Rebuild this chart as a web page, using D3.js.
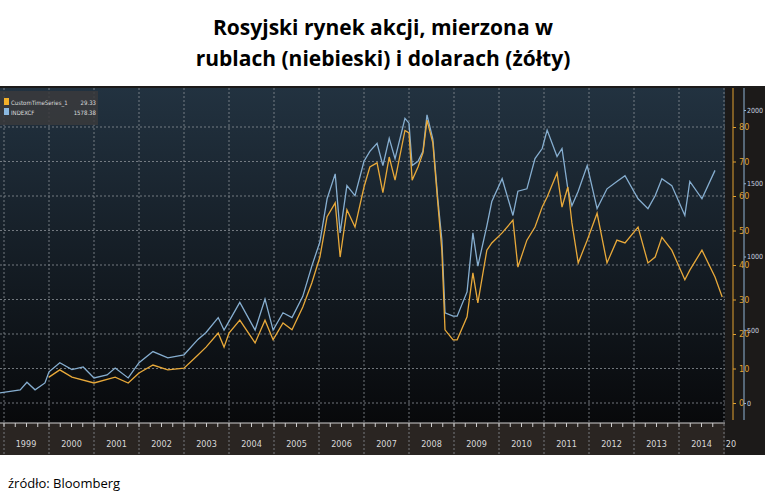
<!DOCTYPE html>
<html><head><meta charset="utf-8">
<script src="https://cdn.jsdelivr.net/npm/d3@7"></script>
<style>body{margin:0;background:#fff}svg{display:block}</style>
</head><body>
<script>
// chart values
var yearLabels = ["1999","2000","2001","2002","2003","2004","2005","2006","2007","2008","2009","2010","2011","2012","2013","2014","20"];
var usdTicks = [0,10,20,30,40,50,60,70,80];
var rubTicks = [0,500,1000,1500,2000];

// dollar series (yellow), decimal year / value
var usdDates = [1998.91,1999.36,1999.51,1999.69,1999.91,2000,2000.24,2000.51,2001,2001.47,2001.76,2002,2002.31,2002.64,2003,2003.31,2003.49,2003.76,2003.89,2004,2004.24,2004.58,2004.8,2004.98,2005.2,2005.4,2005.64,2005.84,2006.02,2006.18,2006.36,2006.47,2006.62,2006.8,2007,2007.13,2007.29,2007.42,2007.56,2007.69,2007.91,2008,2008.07,2008.2,2008.31,2008.4,2008.53,2008.64,2008.73,2008.8,2008.98,2009.07,2009.29,2009.42,2009.53,2009.73,2009.84,2010.07,2010.31,2010.42,2010.62,2010.8,2010.96,2011.07,2011.29,2011.4,2011.53,2011.62,2011.76,2011.96,2012.18,2012.4,2012.62,2012.8,2013.09,2013.31,2013.47,2013.62,2013.84,2014.13,2014.24,2014.51,2014.8,2014.96];
var usdValues = [2.9,3.8,6,3.8,5.8,7.5,9.6,7.5,5.8,7.5,5.8,8.7,11,9.6,10.1,13.9,16.2,20.3,16.2,20.3,24,17.4,24,18.3,23.2,21.2,27.8,34.8,42.3,54,58,42.3,56,51,62.6,68.4,69.6,61,71.3,64.6,79,78.3,64.6,68.4,72.5,82,75.4,58,44.3,21.2,18.3,18.3,25,37.7,29,44.3,46.4,49.3,53,39.4,47.2,51,56.8,59.7,66.7,56.8,62.6,52.2,40.6,47.2,55,40.6,47.2,46.4,51,40.6,42.3,48,44.3,35.7,38.5,44.3,36.5,30.7];

// rouble series (blue), INDEXCF
var rubDates = [1998.91,1999.36,1999.51,1999.69,1999.91,2000,2000.24,2000.51,2000.76,2001,2001.29,2001.47,2001.76,2002,2002.31,2002.64,2003,2003.31,2003.49,2003.76,2003.89,2004,2004.24,2004.58,2004.8,2004.98,2005.2,2005.4,2005.64,2005.84,2006.02,2006.18,2006.36,2006.47,2006.62,2006.8,2007,2007.13,2007.29,2007.42,2007.56,2007.69,2007.91,2008,2008.07,2008.2,2008.31,2008.4,2008.53,2008.64,2008.73,2008.8,2008.98,2009.07,2009.29,2009.42,2009.53,2009.73,2009.84,2010.07,2010.31,2010.42,2010.62,2010.8,2010.96,2011.07,2011.29,2011.4,2011.53,2011.62,2011.76,2011.96,2012.18,2012.4,2012.62,2012.8,2013.09,2013.31,2013.47,2013.62,2013.84,2014.13,2014.24,2014.51,2014.8,2014.96];
var rubValues = [69,90,142,90,137,213,275,228,246,171,192,239,171,275,351,308,329,434,481,583,498,557,687,498,709,498,616,583,728,934,1100,1394,1564,1161,1484,1415,1650,1718,1773,1621,1806,1668,1943,1910,1621,1650,1718,1967,1801,1394,1114,616,593,593,758,1161,934,1209,1375,1531,1280,1446,1462,1668,1737,1863,1683,1737,1462,1346,1446,1621,1327,1462,1512,1552,1394,1327,1415,1531,1484,1280,1512,1394,1588];

var W = 765, H = 500;
var svg = d3.select("body").append("svg").attr("width", W).attr("height", H);

// title
svg.append("text").attr("x", 383).attr("y", 35).attr("text-anchor", "middle")
    .style("font", "bold 21px 'Open Sans', sans-serif").text("Rosyjski rynek akcji, mierzona w");
svg.append("text").attr("x", 383).attr("y", 66).attr("text-anchor", "middle")
    .style("font", "bold 21px 'Open Sans', sans-serif").text("rublach (niebieski) i dolarach (żółty)");

// panel background
var defs = svg.append("defs");
var grad = defs.append("linearGradient").attr("id", "bg").attr("x1", 0).attr("x2", 0).attr("y1", 0).attr("y2", 1);
grad.append("stop").attr("offset", "0%").attr("stop-color", "#223240");
grad.append("stop").attr("offset", "100%").attr("stop-color", "#08090b");
svg.append("rect").attr("x", 0).attr("y", 86).attr("width", W).attr("height", 369).attr("fill", "#1c1a19");
svg.append("rect").attr("x", 0).attr("y", 88).attr("width", 725).attr("height", 335).attr("fill", "url(#bg)");
svg.append("rect").attr("x", 0).attr("y", 423).attr("width", 725).attr("height", 32).attr("fill", "#2a2522");

// scales
var x = d3.scaleLinear().domain([2000, 2015]).range([49, 724]);
var yUsd = d3.scaleLinear().domain([0, 80]).range([403, 127]);
var yRub = d3.scaleLinear().domain([0, 2000]).range([403, 110]);

// grid
var grid = svg.append("g").attr("stroke", "#8a9096").attr("stroke-dasharray", "2,2").attr("stroke-width", 1).attr("opacity", 0.8);
grid.selectAll("line.h").data(usdTicks).join("line")
    .attr("x1", 0).attr("x2", 725).attr("y1", d => yUsd(d)).attr("y2", d => yUsd(d));
grid.selectAll("line.v").data(d3.range(1999, 2016)).join("line")
    .attr("x1", d => x(d)).attr("x2", d => x(d)).attr("y1", 88).attr("y2", 455);

// lines
var usd = usdDates.map((d, i) => [d, usdValues[i]]);
var rub = rubDates.map((d, i) => [d, rubValues[i]]);
svg.append("path").datum(rub).attr("fill", "none").attr("stroke", "#86aed0").attr("stroke-width", 1.3)
    .attr("d", d3.line().x(d => x(d[0])).y(d => yRub(d[1])));
svg.append("path").datum(usd.filter(d => d[0] >= 2000)).attr("fill", "none").attr("stroke", "#e8a93a").attr("stroke-width", 1.3)
    .attr("d", d3.line().x(d => x(d[0])).y(d => yUsd(d[1])));

// bottom axis
svg.append("line").attr("x1", 0).attr("x2", 725).attr("y1", 423).attr("y2", 423).attr("stroke", "#cfcfcf");
svg.append("g").selectAll("line").data(d3.range(1999, 2015, 0.25)).join("line")
    .attr("x1", d => x(d)).attr("x2", d => x(d)).attr("y1", 423).attr("y2", 427).attr("stroke", "#cfcfcf");
svg.append("g").selectAll("text").data(yearLabels).join("text")
    .attr("x", (d, i) => i === 0 ? 26 : i === 16 ? 731 : x(1999 + i) + 22.5).attr("y", 447)
    .attr("text-anchor", "middle").attr("fill", "#d8d8d8")
    .style("font", "9px 'DejaVu Sans Condensed', sans-serif").text(d => d);

// right axes
var axUsd = svg.append("g").attr("transform", "translate(733,0)");
axUsd.append("line").attr("y1", 88).attr("y2", 420).attr("stroke", "#e0a030");
axUsd.call(d3.axisRight(yUsd).tickValues(usdTicks).tickSize(3))
    .call(g => g.select(".domain").remove())
    .call(g => g.selectAll("line").attr("stroke", "#e0a030"))
    .call(g => g.selectAll("text").attr("fill", "#e0a030").style("font", "9px 'DejaVu Sans Condensed', sans-serif"));
var axRub = svg.append("g").attr("transform", "translate(744,0)");
axRub.append("line").attr("y1", 88).attr("y2", 420).attr("stroke", "#6a88a8");
axRub.call(d3.axisRight(yRub).tickValues(rubTicks).tickFormat(d3.format("d")).tickSize(2).tickPadding(1))
    .call(g => g.select(".domain").remove())
    .call(g => g.selectAll("line").attr("stroke", "#8fb4d6"))
    .call(g => g.selectAll("text").attr("fill", "#c8d4e0").style("font", "7px 'DejaVu Sans Condensed', sans-serif"));

// legend
var leg = svg.append("g");
leg.append("rect").attr("x", 0).attr("y", 91).attr("width", 98).attr("height", 34).attr("fill", "#3a3a3c").attr("opacity", 0.85);
var legItems = [["CustomTimeSeries_1", "29.33", "#f2b02a"], ["INDEXCF", "1578.38", "#8ab8e0"]];
legItems.forEach((it, i) => {
    leg.append("rect").attr("x", 4).attr("y", 98 + i * 10).attr("width", 5).attr("height", 7).attr("fill", it[2]);
    leg.append("text").attr("x", 11).attr("y", 104.5 + i * 10).attr("fill", "#dcdcdc")
        .style("font", "6px 'DejaVu Sans Condensed', sans-serif").text(it[0]);
    leg.append("text").attr("x", 96).attr("y", 104.5 + i * 10).attr("text-anchor", "end").attr("fill", "#dcdcdc")
        .style("font", "6px 'DejaVu Sans Condensed', sans-serif").text(it[1]);
});

// source
svg.append("text").attr("x", 8).attr("y", 488).style("font", "13px 'Open Sans', sans-serif").text("źródło: Bloomberg");
</script>
</body></html>
